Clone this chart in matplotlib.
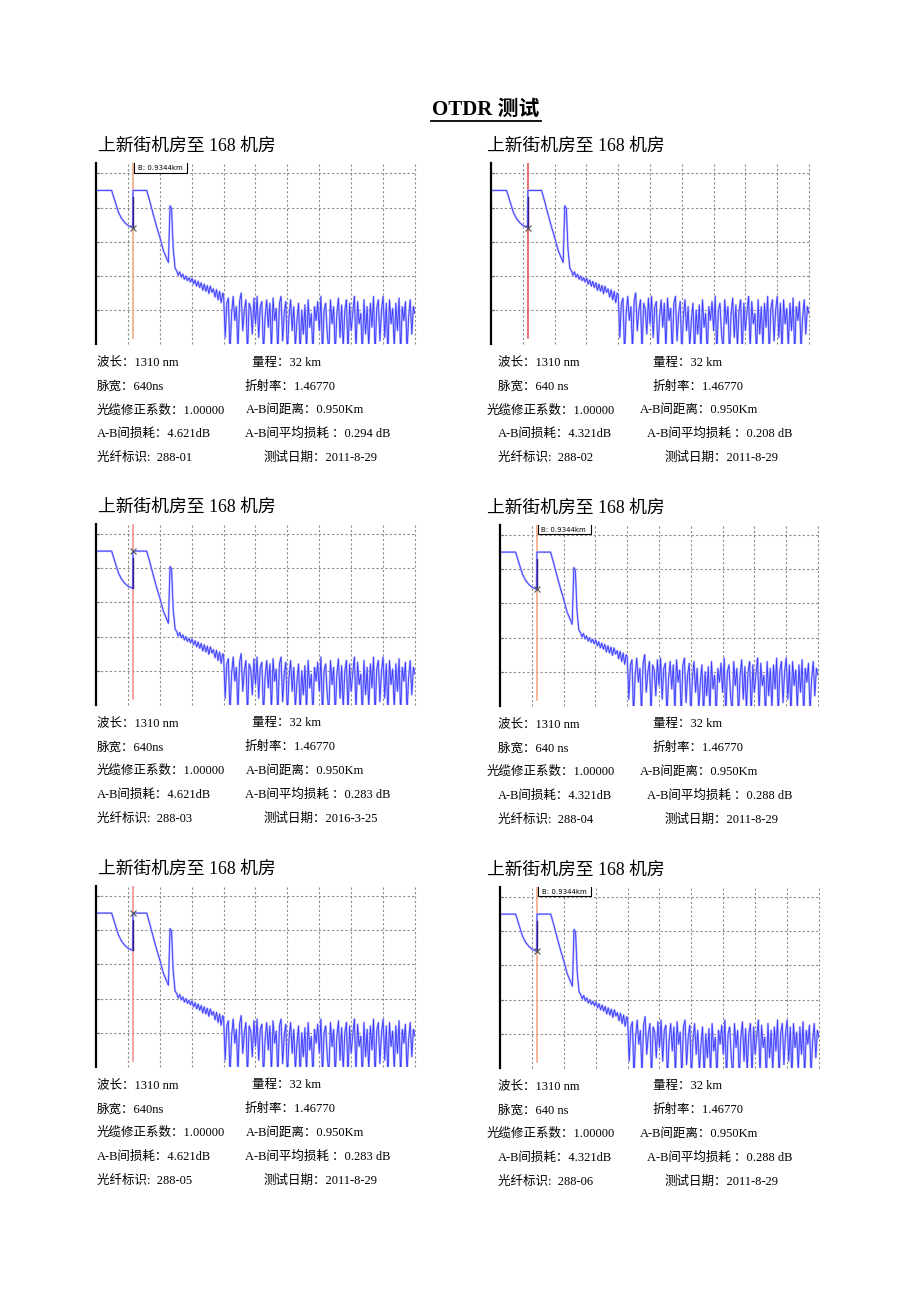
import numpy as np
import matplotlib
matplotlib.use("Agg")
import matplotlib.pyplot as plt
from matplotlib.lines import Line2D
from matplotlib.patches import Rectangle

plt.rcParams['font.family'] = ['Liberation Serif', 'Noto Sans CJK SC']

W, H = 920, 1302

# OTDR trace, in screen divisions (x: 10 divisions, y: 5 divisions)
head_x = [0, 0, 0.49, 0.60, 0.70, 0.80, 0.91, 1.01, 1.15, 1.16, 1.59, 1.69, 1.80,
          1.90, 2.01, 2.11, 2.27, 2.32, 2.37, 2.42, 2.48]
head_y = [2.2, 4.5, 4.5, 4.17, 3.87, 3.68, 3.55, 3.47, 3.41, 4.5, 4.5, 4.17, 3.78,
          3.44, 3.10, 2.75, 2.39, 4.05, 3.97, 2.80, 2.22]
# noisy backscatter after the reflection (x from 2.5 to 4.0)
mid_y = [2.15, 2.02, 2.12, 1.96, 2.05, 1.9, 2.0, 1.86, 1.95, 1.82, 1.93, 1.76, 1.88,
         1.7, 1.84, 1.66, 1.8, 1.58, 1.76, 1.55, 1.72, 1.48, 1.7, 1.52, 1.62, 1.38,
         1.6, 1.3, 1.55, 1.22, 1.5]
# receiver noise floor (x from 4 to 10)
tail_y = [1.45, 0.2, 1.2, 1.35, -0.3, 0.9, 1.4, 0.7, 1.1, -0.2, 1.25, 1.5, 0.4, 1.0,
          1.3, -0.3, 1.2, 1.05, 0.3, 1.35,
          0.6, 1.4, 0.2, 1.1, 1.25, -0.3, 0.8, 1.3, 0.5, 1.2, -0.2, 1.35, 0.7, 1.05,
          -0.3, 1.2, 1.4, 0.1, 0.9, 1.25,
          -0.3, 0.8, 1.3, 0.4, 1.1, -0.1, 0.7, 1.2, -0.3, 1.0, 0.3, 1.15, -0.2, 1.3,
          0.5, 0.9, -0.3, 1.1, 0.7, 1.25,
          0.4, 1.4, -0.3, 1.0, 1.2, 0.3, -0.2, 1.3, 0.6, 1.1, -0.3, 0.9, 1.35, 0.2,
          1.15, -0.1, 1.0, 1.3, -0.3, 1.2,
          0.4, 0.95, 1.4, -0.2, 1.25, 0.6, 0.9, -0.3, 1.3, 0.3, 1.1, -0.1, 1.2, 0.5,
          1.4, -0.3, 1.05, 1.3, 0.1, 1.0,
          1.4, 0.2, 1.2, -0.3, 1.3, 0.6, 1.05, -0.1, 1.2, 0.4, 1.35, -0.3, 1.1, 0.7,
          1.25, -0.2, 0.8, 1.3, 0.3, 1.1, 0.9]

cursor_x = 1.16

# per panel values
panel_title = '上新街机房至 168 机房'
pulse = ['640ns', '640 ns', '640ns', '640 ns', '640ns', '640 ns']
ab_loss = ['4.621dB', '4.321dB', '4.621dB', '4.321dB', '4.621dB', '4.321dB']
avg_loss = ['0.294 dB', '0.208 dB', '0.283 dB', '0.288 dB', '0.283 dB', '0.288 dB']
fiber_id = ['288-01', '288-02', '288-03', '288-04', '288-05', '288-06']
test_date = ['2011-8-29', '2011-8-29', '2016-3-25', '2011-8-29', '2011-8-29', '2011-8-29']
marker_high = [False, False, True, False, True, False]
b_label = [True, False, False, True, False, True]

# layout in pixels: left, right, top gridline
boxes = [(96, 415, 173.3), (491, 809, 173.3),
         (96, 415, 534), (500, 818, 535),
         (96, 415, 896), (500, 819, 897)]
cursor_colors = ['#f2a27e', '#e84848', '#f08a8a', '#f4a07c', '#f08a8a', '#f4a07c']
DIV = 34.2

fig = plt.figure(figsize=(W / 100, H / 100), dpi=100)


def fx(x):
    return x / W


def fy(y):
    return 1 - y / H


# page title
fig.text(fx(486), fy(110), 'OTDR 测试', ha='center', va='center', fontsize=15,
         fontweight='bold')
fig.add_artist(Line2D([fx(431), fx(541)], [fy(120.5), fy(120.5)], color='black', lw=1.3))

tx = np.array(head_x + list(np.linspace(2.53, 3.97, len(mid_y))) +
              list(np.linspace(4.0, 10.0, len(tail_y))))
ty = np.array(head_y + mid_y + tail_y)

for i, (L, R, tg) in enumerate(boxes):
    top = tg - 10
    bot = tg + 5 * DIV
    ax = fig.add_axes([fx(L), fy(bot), (R - L) / W, (bot - top) / H])
    ytop = (bot - top) / DIV
    ax.set_xlim(0, 10)
    ax.set_ylim(0, ytop)
    for s in ['top', 'right', 'bottom']:
        ax.spines[s].set_visible(False)
    ax.spines['left'].set_linewidth(1.6)
    ax.set_xticks([])
    ax.set_yticks([1, 2, 3, 4, 5])
    ax.tick_params(axis='y', length=2, width=0.8, direction='in', labelleft=False)
    ax.patch.set_alpha(0)

    for g in range(1, 6):
        ax.plot([0, 10], [g, g], color='#8c8c8c', ls=(0, (2, 2)), lw=0.8, clip_on=False)
    for g in range(1, 11):
        ax.plot([g, g], [0, ytop], color='#8c8c8c', ls=(0, (2, 2)), lw=0.8, clip_on=False)

    # cursor
    ax.plot([cursor_x, cursor_x], [0.19, ytop], color=cursor_colors[i], lw=1.1)

    # trace
    ax.plot(tx, ty, color='#b4b4ff', lw=1.5)
    ax.plot(tx, ty, color='#3a3aff', lw=0.6)
    ax.plot([cursor_x, cursor_x], [head_y[8], 4.3], color='#3a1a7a', lw=1.0)

    my = head_y[9] if marker_high[i] else head_y[8]
    ax.plot(cursor_x, my, marker='x', ms=5, mew=0.8, color='#555555')

    if b_label[i]:
        ax.add_patch(Rectangle((cursor_x + 0.03, 5.02), 2.85 - cursor_x - 0.03, 0.5,
                               facecolor='white', edgecolor='black', lw=0.8, zorder=5))
        ax.text((cursor_x + 2.85) / 2, 5.15, 'B: 0.9344km', ha='center', va='center',
                fontsize=5, family='DejaVu Sans', zorder=6)

    # titles and info text
    right_side = i % 2 == 1
    fig.text(fx(487 if right_side else 98), fy(tg - 27), panel_title,
             ha='left', va='center', fontsize=12.8)

    left_rows = ['波长：1310 nm', '脉宽：' + pulse[i], '光缆修正系数：1.00000',
                 'A-B间损耗：' + ab_loss[i], '光纤标识:  ' + fiber_id[i]]
    right_rows = ['量程：32 km', '折射率：1.46770', 'A-B间距离：0.950Km',
                  'A-B间平均损耗 ：' + avg_loss[i], '测试日期：' + test_date[i]]
    if right_side:
        lx = [498, 498, 487, 498, 498]
        rx = [653, 653, 640, 647, 665]
    else:
        lx = [97, 97, 97, 97, 97]
        rx = [252, 245, 246, 245, 264]
    for r in range(5):
        yy = tg + 189.4 + r * 23.8
        fig.text(fx(lx[r]), fy(yy), left_rows[r], ha='left', va='center', fontsize=9)
        fig.text(fx(rx[r]), fy(yy), right_rows[r], ha='left', va='center', fontsize=9)

fig.savefig('out.png', dpi=100, facecolor='white')
